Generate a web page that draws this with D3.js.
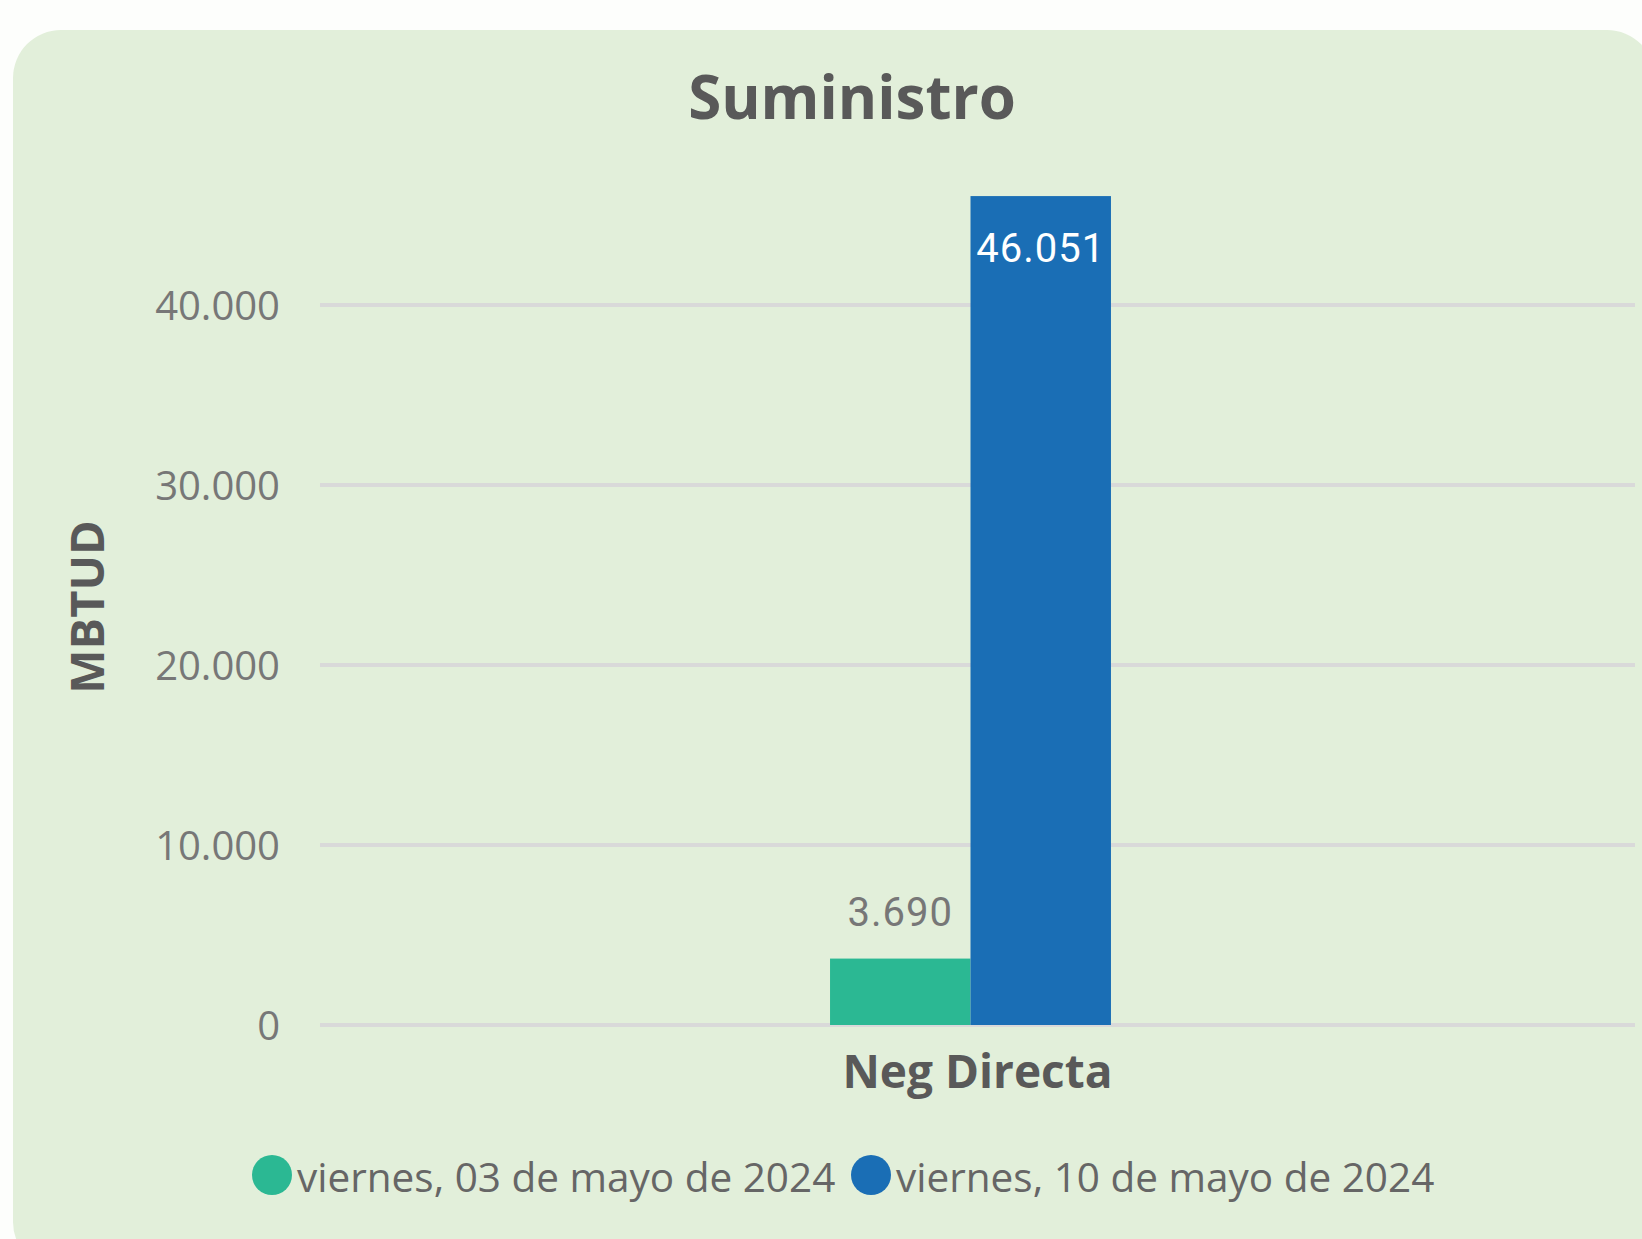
<!DOCTYPE html>
<html>
<head>
<meta charset="utf-8">
<script src="https://cdn.jsdelivr.net/npm/d3@7"></script>
<style>
  html, body { margin: 0; padding: 0; background: #fdfefc; }
  svg { display: block; }
</style>
</head>
<body>
<div id="chart"></div>
<script>
// chart data
var categories = ["Neg Directa"];
var seriesNames = ["viernes, 03 de mayo de 2024", "viernes, 10 de mayo de 2024"];
var seriesColors = ["#2bb893", "#1a6eb5"];
var values03 = [3690];
var values10 = [46051];
var yTicks = [0, 10000, 20000, 30000, 40000];

var width = 1642, height = 1239;
var es = d3.formatLocale({ decimal: ",", thousands: ".", grouping: [3], currency: ["", "€"] });
var fmt = es.format(",d");

var svg = d3.select("#chart").append("svg")
  .attr("width", width)
  .attr("height", height);

// card background
svg.append("rect")
  .attr("x", 13).attr("y", 30)
  .attr("width", 1642).attr("height", 1240)
  .attr("rx", 48)
  .attr("fill", "#e2efda");

var gridLeft = 320, gridRight = 1635;
var y = d3.scaleLinear().domain([0, 40000]).range([1025, 305]);
var x0 = d3.scaleBand().domain(categories).range([gridLeft - 14, gridRight]).paddingInner(0.651).paddingOuter(0.651);
var x1 = d3.scaleBand().domain(seriesNames).range([0, x0.bandwidth()]);

// gridlines
svg.append("g").selectAll("line")
  .data(yTicks)
  .enter().append("line")
  .attr("x1", gridLeft).attr("x2", gridRight)
  .attr("y1", d => y(d)).attr("y2", d => y(d))
  .attr("stroke", "#d9d9d9")
  .attr("stroke-width", 4);

// y axis tick labels
var yAxis = d3.axisLeft(y).tickValues(yTicks).tickFormat(fmt).tickSize(0).tickPadding(0);
var ya = svg.append("g").attr("transform", "translate(280,0)").call(yAxis);
ya.select(".domain").remove();
ya.selectAll("text")
  .attr("font-family", "'Open Sans', sans-serif")
  .attr("font-size", 40)
  .attr("fill", "#777")
  .attr("dy", "0.36em");

// y axis title
svg.append("text")
  .attr("transform", "translate(104,607) rotate(-90)")
  .attr("text-anchor", "middle")
  .attr("font-family", "'Open Sans', sans-serif")
  .attr("font-weight", "bold")
  .attr("font-size", 47)
  .attr("fill", "#595959")
  .text("MBTUD");

// title
svg.append("text")
  .attr("x", 852).attr("y", 119)
  .attr("text-anchor", "middle")
  .attr("font-family", "'Open Sans', sans-serif")
  .attr("font-weight", "bold")
  .attr("font-size", 60)
  .attr("fill", "#595959")
  .text("Suministro");

// bars
var rows = categories.map((c, i) => ({ cat: c, vals: [values03[i], values10[i]] }));
var grp = svg.append("g").selectAll("g")
  .data(rows)
  .enter().append("g")
  .attr("transform", d => "translate(" + x0(d.cat) + ",0)");

grp.selectAll("rect")
  .data(d => d.vals.map((v, j) => ({ v: v, s: seriesNames[j], j: j })))
  .enter().append("rect")
  .attr("x", d => x1(d.s))
  .attr("width", x1.bandwidth())
  .attr("y", d => y(d.v))
  .attr("height", d => y(0) - y(d.v))
  .attr("fill", d => seriesColors[d.j]);

// data labels: small bar label above, tall bar label inside
grp.selectAll("text.lbl")
  .data(d => d.vals.map((v, j) => ({ v: v, s: seriesNames[j], j: j })))
  .enter().append("text")
  .attr("class", "lbl")
  .attr("x", d => x1(d.s) + x1.bandwidth() / 2)
  .attr("y", d => d.j === 0 ? y(d.v) - 33 : y(d.v) + 66)
  .attr("text-anchor", "middle")
  .attr("font-family", "Roboto, sans-serif")
  .attr("font-size", 40)
  .attr("letter-spacing", 1)
  .attr("fill", d => d.j === 0 ? "#777" : "#fff")
  .text(d => fmt(d.v));

// category label
svg.append("g").selectAll("text")
  .data(categories)
  .enter().append("text")
  .attr("x", (gridLeft + gridRight) / 2)
  .attr("y", 1088)
  .attr("text-anchor", "middle")
  .attr("font-family", "'Open Sans', sans-serif")
  .attr("font-weight", "bold")
  .attr("font-size", 46)
  .attr("fill", "#595959")
  .text(d => d);

// legend
var legendX = [272, 871];
var leg = svg.append("g").selectAll("g")
  .data(seriesNames)
  .enter().append("g")
  .attr("transform", (d, i) => "translate(" + legendX[i] + ",1175)");
leg.append("circle")
  .attr("r", 20)
  .attr("fill", (d, i) => seriesColors[i]);
leg.append("text")
  .attr("x", 25).attr("y", 17)
  .attr("font-family", "'Open Sans', sans-serif")
  .attr("font-size", 40.5)
  .attr("fill", "#666")
  .text(d => d);
</script>
</body>
</html>
